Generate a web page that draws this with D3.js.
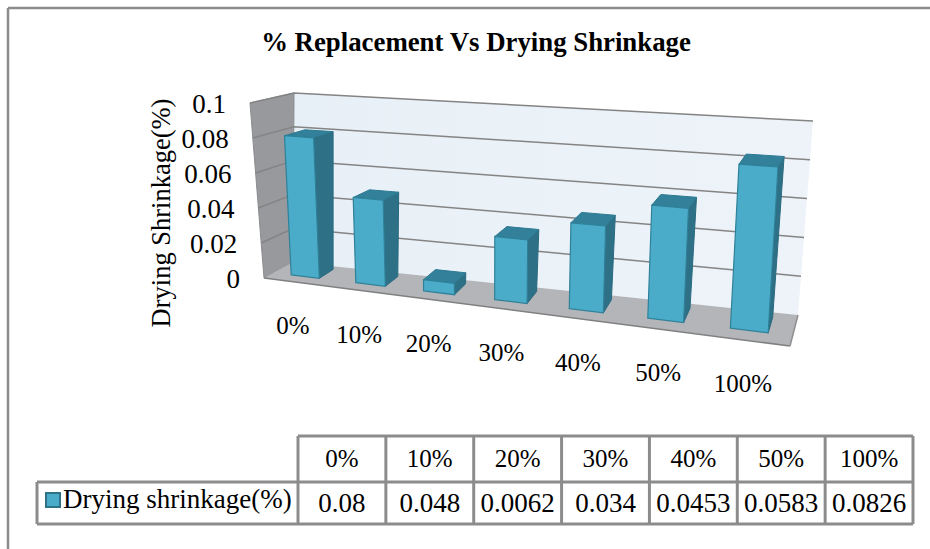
<!DOCTYPE html>
<html>
<head>
<meta charset="utf-8">
<script src="https://cdn.jsdelivr.net/npm/d3@7"></script>
<style>
  html, body { margin: 0; padding: 0; background: #fff; }
  text { font-family: "Liberation Serif", serif; fill: #000; }
</style>
</head>
<body>
<div id="container"></div>
<script>
let w = 930;
let h = 549;

// data
let categories = ["0%", "10%", "20%", "30%", "40%", "50%", "100%"];
let shrinkage = [0.08, 0.048, 0.0062, 0.034, 0.0453, 0.0583, 0.0826];
let tableValues = ["0.08", "0.048", "0.0062", "0.034", "0.0453", "0.0583", "0.0826"];
let yTicks = [0, 0.02, 0.04, 0.06, 0.08, 0.1];
let yTickLabels = ["0", "0.02", "0.04", "0.06", "0.08", "0.1"];
let seriesName = "Drying shrinkage(%)";
let titleText = "% Replacement Vs Drying Shrinkage";
let yTitle = "Drying Shrinkage(%)";

let viz = d3.select("#container")
  .append("svg")
    .attr("width", w)
    .attr("height", h)
    .style("display", "block")
    .style("background-color", "#fff");

let defs = viz.append("defs");
let wallGrad = defs.append("linearGradient").attr("id", "backWall");
wallGrad.append("stop").attr("offset", "0%").attr("stop-color", "#e8f0f7");
wallGrad.append("stop").attr("offset", "100%").attr("stop-color", "#edf3f9");
// the original is a soft scan, take the edge off the plot a bit
defs.append("filter").attr("id", "soft")
  .append("feGaussianBlur").attr("stdDeviation", 0.45);

// the 3D box: corners of the plot on screen (front/back, left/right, bottom/top)
let corners = {
  flb: [264, 278], frb: [790, 346], blb: [293, 262], brb: [798, 315],
  flt: [250, 103], frt: [802, 140], blt: [294, 93], brt: [813, 121]
};

function lerp(a, b, t) { return [a[0] + (b[0] - a[0]) * t, a[1] + (b[1] - a[1]) * t]; }

// u across, v up, d into the page, all 0..1
function project(u, v, d) {
  let front = lerp(lerp(corners.flb, corners.frb, u), lerp(corners.flt, corners.frt, u), v);
  let back = lerp(lerp(corners.blb, corners.brb, u), lerp(corners.blt, corners.brt, u), v);
  return lerp(front, back, d);
}

// categories get wider toward the right, like in the perspective of the original
let bandScale = d3.scaleBand().domain(categories).range([0, 1]).paddingInner(0.56).paddingOuter(0.28);
let k = 1.188;
function persp(t) { return t / (k - (k - 1) * t); }

let yScale = d3.scaleLinear().domain([0, 0.1]).range([0, 1]);
let depthFront = 0.33;
let depthBack = 0.84;

function poly(points) {
  return points.map(p => p[0].toFixed(1) + "," + p[1].toFixed(1)).join(" ");
}

let plot = viz.append("g").attr("filter", "url(#soft)");

// walls and floor
let box = plot.append("g").attr("class", "box");
box.append("polygon").attr("points", poly([corners.blb, corners.brb, corners.brt, corners.blt]))
  .attr("fill", "url(#backWall)");
box.append("polygon").attr("points", poly([corners.flb, corners.blb, corners.blt, corners.flt]))
  .attr("fill", "#97999c").attr("stroke", "#8a8c8e").attr("stroke-width", 1);
box.append("polygon").attr("points", poly([corners.flb, corners.frb, corners.brb, corners.blb]))
  .attr("fill", "#b3b5b8");
box.append("line")
  .attr("x1", corners.flb[0]).attr("y1", corners.flb[1])
  .attr("x2", corners.frb[0]).attr("y2", corners.frb[1])
  .attr("stroke", "#808080").attr("stroke-width", 1.5);
box.append("line")
  .attr("x1", corners.frb[0]).attr("y1", corners.frb[1])
  .attr("x2", corners.brb[0]).attr("y2", corners.brb[1])
  .attr("stroke", "#909090").attr("stroke-width", 1.5);

// gridlines over back and left wall
let grid = plot.append("g").attr("class", "grid");
yTicks.filter(t => t > 0).forEach(t => {
  let v = yScale(t);
  grid.append("polyline")
    .attr("points", poly([project(0, v, 0), project(0, v, 1), project(1, v, 1)]))
    .attr("fill", "none")
    .attr("stroke", "#848484")
    .attr("stroke-width", 1.5);
});

// bars
let barGroup = plot.append("g").attr("class", "bars");
categories.forEach((c, i) => {
  let u0 = persp(bandScale(c));
  let u1 = persp(bandScale(c) + bandScale.bandwidth());
  let top = yScale(shrinkage[i]);
  let g = barGroup.append("g");
  let side = [project(u1, 0, depthFront), project(u1, 0, depthBack), project(u1, top, depthBack), project(u1, top, depthFront)];
  let cap = [project(u0, top, depthFront), project(u1, top, depthFront), project(u1, top, depthBack), project(u0, top, depthBack)];
  let face = [project(u0, 0, depthFront), project(u1, 0, depthFront), project(u1, top, depthFront), project(u0, top, depthFront)];
  g.append("polygon").attr("points", poly(side)).attr("fill", "#2e7086").attr("stroke", "#2a6a80").attr("stroke-width", 1);
  g.append("polygon").attr("points", poly(cap)).attr("fill", "#31809a").attr("stroke", "#2e7a92").attr("stroke-width", 1);
  g.append("polygon").attr("points", poly(face)).attr("fill", "#4bacc9").attr("stroke", "#2f8199").attr("stroke-width", 1.2);
});

// tick labels follow the front edge of the left wall
viz.append("g").selectAll("text").data(yTicks).enter()
  .append("text")
    .attr("x", d => project(0, yScale(d), 0)[0] - 24)
    .attr("y", d => project(0, yScale(d), 0)[1] + 10)
    .attr("text-anchor", "end")
    .attr("font-size", 27)
    .text((d, i) => yTickLabels[i]);

// category labels under the floor
viz.append("g").selectAll("text").data(categories).enter()
  .append("text")
    .attr("x", d => project(persp(bandScale(d) + bandScale.bandwidth() / 2), 0, 0)[0] - 3)
    .attr("y", d => project(persp(bandScale(d) + bandScale.bandwidth() / 2), 0, 0)[1] + 52)
    .attr("text-anchor", "middle")
    .attr("font-size", 25)
    .text(d => d);

viz.append("text")
  .attr("x", 476).attr("y", 51)
  .attr("text-anchor", "middle")
  .attr("font-size", 26.8)
  .attr("font-weight", "bold")
  .text(titleText);

viz.append("text")
  .attr("transform", "translate(170,213) rotate(-90)")
  .attr("text-anchor", "middle")
  .attr("font-size", 26.5)
  .text(yTitle);

// outer frame
let frame = viz.append("g").attr("stroke", "#8c8c8c").attr("stroke-width", 2.5);
frame.append("line").attr("x1", 8).attr("y1", 8).attr("x2", 930).attr("y2", 8);
frame.append("line").attr("x1", 8).attr("y1", 8).attr("x2", 8).attr("y2", 549);

// data table
let tableX = d3.scalePoint().domain(d3.range(8)).range([298, 913]);
let rowTop = 436, rowMid = 482, rowBottom = 524, tableLeft = 37;
let table = viz.append("g").attr("class", "table");
let tableLines = table.append("g").attr("stroke", "#8c8c8c").attr("stroke-width", 3);
tableLines.append("line").attr("x1", 298).attr("y1", rowTop).attr("x2", 913).attr("y2", rowTop);
tableLines.append("line").attr("x1", tableLeft).attr("y1", rowMid).attr("x2", 913).attr("y2", rowMid);
tableLines.append("line").attr("x1", tableLeft).attr("y1", rowBottom).attr("x2", 913).attr("y2", rowBottom);
tableLines.append("line").attr("x1", tableLeft).attr("y1", rowMid).attr("x2", tableLeft).attr("y2", rowBottom);
d3.range(8).forEach(i => {
  tableLines.append("line").attr("x1", tableX(i)).attr("y1", rowTop).attr("x2", tableX(i)).attr("y2", rowBottom);
});
categories.forEach((c, i) => {
  let cx = (tableX(i) + tableX(i + 1)) / 2;
  table.append("text").attr("x", cx).attr("y", 467).attr("text-anchor", "middle").attr("font-size", 25).text(c);
  table.append("text").attr("x", cx).attr("y", 512).attr("text-anchor", "middle").attr("font-size", 27).text(tableValues[i]);
});
table.append("rect").attr("x", 46).attr("y", 493).attr("width", 14).attr("height", 14)
  .attr("fill", "#4bacc9").attr("stroke", "#2f7186").attr("stroke-width", 2);
table.append("text").attr("x", 63).attr("y", 508).attr("font-size", 27).text(seriesName);
</script>
</body>
</html>
